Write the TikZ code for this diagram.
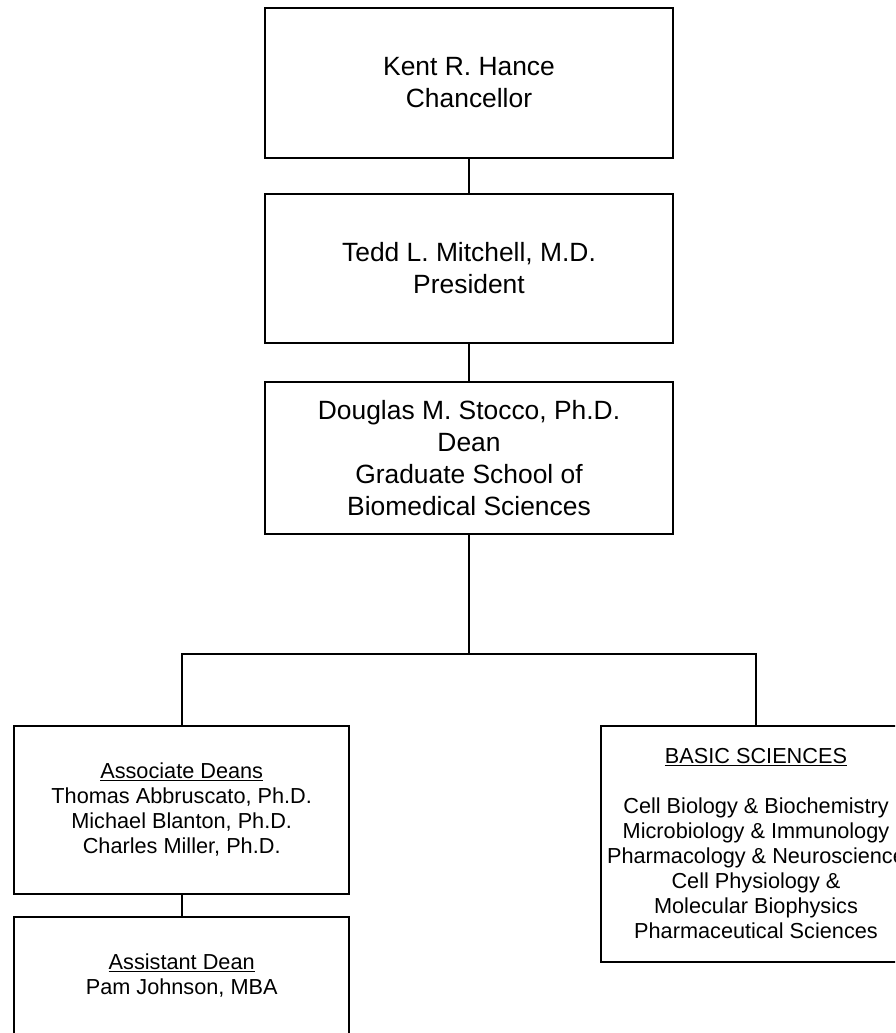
\documentclass[tikz,border=0pt]{standalone}
\usepackage{fontspec}
\setmainfont{Liberation Sans}
\begin{document}
\begin{tikzpicture}[x=1pt,y=-1pt,
  bigbox/.style={draw, line width=1.6pt, minimum width=408pt, align=center, inner sep=0pt,
    font=\fontsize{26.4}{32}\selectfont},
  smallbox/.style={draw, line width=1.6pt, align=center, inner sep=0pt,
    font=\fontsize{21.7}{25}\selectfont},
  link/.style={line width=1.6pt}]
\clip (0,0) rectangle (895,1033);
\fill[white] (0,0) rectangle (895,1033);
\node[bigbox, minimum height=150pt] (n1) at (469,83) {Kent R. Hance\\Chancellor};
\node[bigbox, minimum height=149pt] (n2) at (469,268.5) {Tedd L. Mitchell, M.D.\\President};
\node[bigbox, minimum height=152pt] (n3) at (469,458) {Douglas M. Stocco, Ph.D.\\Dean\\Graduate School of\\Biomedical Sciences};
\node[smallbox, minimum width=335pt, minimum height=168pt] (assoc) at (181.7,810)
  {\underline{Associate Deans}\\Thomas Abbruscato, Ph.D.\\Michael Blanton, Ph.D.\\Charles Miller, Ph.D.};
\node[smallbox, minimum width=335pt, minimum height=117pt] (asst) at (181.7,975.5)
  {\underline{Assistant Dean}\\Pam Johnson, MBA};
\node[smallbox, minimum width=310pt, minimum height=236pt] (basic) at (756,844)
  {\underline{BASIC SCIENCES}\\[25pt]Cell Biology \& Biochemistry\\Microbiology \& Immunology\\Pharmacology \& Neuroscience\\Cell Physiology \&\\Molecular Biophysics\\Pharmaceutical Sciences};
\coordinate (fork) at (469,654);
\draw[link] (n1.south) -- (n2.north);
\draw[link] (n2.south) -- (n3.north);
\draw[link] (n3.south) -- (fork);
\draw[link] (assoc.north) |- (fork) -| (basic.north);
\draw[link] (assoc.south) -- (asst.north);
\end{tikzpicture}
\end{document}
